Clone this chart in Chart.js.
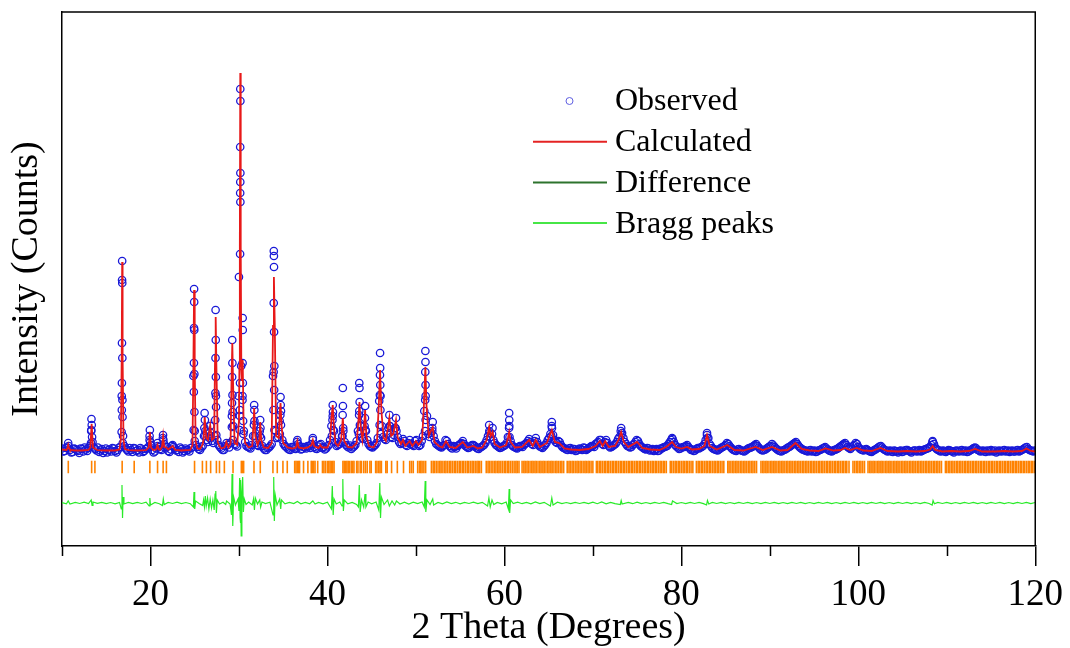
<!DOCTYPE html>
<html>
<head>
<meta charset="utf-8">
<title>Rietveld refinement</title>
<script src="https://cdn.jsdelivr.net/npm/chart.js@4.4.1/dist/chart.umd.min.js"></script>
<style>
  html, body { margin: 0; padding: 0; background: #fff; }
  #wrap { width: 1070px; height: 648px; }
</style>
</head>
<body>
<div id="wrap"><canvas id="xrd-chart"></canvas></div>
<script>
// Data: [2 theta (deg), intensity (counts)]
const calculated = [
  [10,965],[10.5,960],[10.6,975],[10.7,1010],[10.8,975],[10.9,960],[11.5,955],[12.3,955],[13.0,960],[13.2,985],[13.35,1220],[13.5,985],
  [14.0,958],[15,955],[16,955],[16.5,965],[16.65,1060],[16.75,1900],[16.8,2840],[16.85,1900],[16.95,1060],[17.1,970],[17.5,958],
  [18.5,955],[19.5,958],[19.8,985],[19.93,1140],[20.06,985],[20.3,960],[20.65,965],[20.8,1010],[20.95,965],[21.1,962],[21.3,990],
  [21.43,1100],[21.56,990],[21.8,985],[22.0,965],[22.5,1000],[22.8,960],[23.5,955],[24.5,960],[24.75,1010],[24.85,1800],[24.93,2560],
  [25.0,1800],[25.1,1050],[25.3,975],[25.6,970],[25.87,1010],[26.0,1060],[26.13,1290],[26.3,1080],[26.5,1060],[26.75,1210],[26.95,1060],
  [27.2,1080],[27.3,1900],[27.37,2290],[27.45,1800],[27.6,1040],[27.8,1000],[28.0,975],[28.4,990],[28.58,1040],[28.8,985],[29.05,1020],
  [29.17,1700],[29.25,2030],[29.33,1650],[29.5,1030],[29.8,1010],[30.0,1250],[30.05,1800],[30.1,3000],[30.15,4730],[30.2,3000],
  [30.27,1750],[30.33,1650],[30.42,1860],[30.52,1250],[30.7,1030],[31.1,985],[31.5,1000],[31.65,1240],[31.72,1380],[31.85,1100],
  [32.1,1010],[32.3,1060],[32.4,1240],[32.52,1060],[32.8,985],[33.3,980],[33.7,1030],[33.85,2200],[33.95,2690],[34.05,2200],[34.2,1100],
  [34.5,1080],[34.62,1350],[34.7,1430],[34.82,1200],[35.0,1030],[35.5,985],[36.0,975],[36.45,985],[36.6,1050],[36.75,985],[37.3,975],
  [37.8,985],[38.2,1010],[38.35,1060],[38.5,1000],[39.0,980],[39.2,1010],[39.4,985],[40.0,985],[40.3,1050],[40.45,1280],[40.6,1410],
  [40.72,1200],[40.9,1030],[41.2,1000],[41.55,1060],[41.74,1280],[41.9,1050],[42.3,990],[42.8,985],[43.3,1030],[43.5,1250],[43.62,1440],
  [43.75,1200],[43.95,1060],[44.15,1200],[44.26,1360],[44.4,1100],[44.7,1000],[45.2,985],[45.6,1040],[45.8,1400],[45.95,1760],[46.1,1350],
  [46.35,1080],[46.6,1050],[46.8,1160],[47.0,1280],[47.2,1100],[47.45,1120],[47.75,1260],[47.95,1080],[48.3,1020],[48.55,1060],[48.8,1000],
  [49.3,1050],[49.6,1000],[50.0,1050],[50.3,1010],[50.7,1060],[50.9,1400],[51.07,1790],[51.2,1400],[51.45,1100],[51.75,1160],[51.9,1190],
  [52.1,1040],[52.6,1000],[53.0,985],[53.4,1050],[53.8,990],[54.5,980],[55.3,1040],[55.8,985],[56.5,1000],[57.0,975],[57.5,985],
  [58.0,1060],[58.28,1190],[58.45,1100],[58.66,1140],[58.9,1020],[59.5,985],[60.2,1010],[60.4,1080],[60.54,1140],[60.7,1040],[61.2,985],
  [62.0,990],[62.8,1060],[63.2,1000],[63.55,1060],[64.0,990],[64.8,1030],[65.36,1160],[65.7,1040],[66.2,1030],[66.8,975],[67.5,965],
  [68.5,960],[69.5,970],[70.3,1000],[70.8,1050],[71.1,1000],[71.4,1050],[71.8,990],[72.5,1000],[72.9,1060],[73.2,1140],[73.5,1040],
  [74.0,990],[75.0,1040],[75.6,980],[76.5,965],[77.5,960],[78.3,990],[78.96,1040],[79.4,990],[80.0,975],[80.65,990],[81.2,965],
  [82.0,970],[82.6,1000],[82.9,1110],[83.2,1000],[84.0,965],[85.2,1010],[86.0,960],[87.0,955],[88.4,990],[89.2,960],[90.25,990],
  [91.2,955],[92.0,960],[92.9,1030],[93.6,970],[94.5,955],[95.5,950],[96.3,975],[97.2,955],[98.0,960],[98.5,980],[99.1,960],
  [99.8,980],[100.6,955],[101.5,950],[102.5,980],[103.3,950],[104.5,945],[105.5,950],[106.5,945],[107.5,950],[108.1,965],[108.4,1000],
  [108.7,960],[109.5,945],[110.5,950],[111.5,945],[112.5,950],[113.2,970],[114.0,945],[115.5,945],[116.5,950],[117.5,945],[118.5,950],
  [119.0,975],[119.5,950],[120,945]
];

const observedScan = [
  [10.0,975],[10.3,950],[10.6,985],[10.9,960],[11.2,940],[11.5,970],[11.8,950],[12.1,975],[12.4,945],[12.7,965],[13.0,980],[13.3,1150],
  [13.6,985],[13.9,955],[14.2,940],[14.5,970],[14.8,950],[15.1,935],[15.4,965],[15.7,980],[16.0,950],[16.3,960],[16.6,990],[16.9,1100],
  [17.2,975],[17.5,945],[17.8,960],[18.1,980],[18.4,950],[18.7,935],[19.0,965],[19.3,950],[19.6,975],[19.9,1060],[20.2,960],[20.5,945],
  [20.8,1000],[21.1,970],[21.4,1080],[21.7,975],[22.0,950],[22.3,965],[22.6,990],[22.9,955],[23.2,940],[23.5,970],[23.8,950],[24.1,960],
  [24.4,945],[24.7,985],[25.0,1150],[25.3,990],[25.6,960],[25.9,1000],[26.2,1150],[26.5,1040],[26.8,1100],[27.1,1030],[27.4,1500],
  [27.7,1010],[28.0,975],[28.3,960],[28.6,1030],[28.9,985],[29.2,1300],[29.5,1020],[29.8,995],[30.1,1300],[30.4,1500],[30.7,1040],
  [31.0,990],[31.3,975],[31.6,1100],[31.9,1030],[32.2,1000],[32.5,1080],[32.8,975],[33.1,960],[33.4,985],[33.7,1020],[34.0,1800],
  [34.3,1080],[34.6,1250],[34.9,1060],[35.2,1000],[35.5,975],[35.8,960],[36.1,985],[36.4,970],[36.7,1020],[37.0,965],[37.3,990],
  [37.6,975],[37.9,995],[38.2,1020],[38.5,990],[38.8,970],[39.1,1010],[39.4,980],[39.7,965],[40.0,995],[40.3,1060],[40.6,1300],
  [40.9,1040],[41.2,1010],[41.5,1040],[41.8,1150],[42.1,1010],[42.4,985],[42.7,970],[43.0,995],[43.3,1050],[43.6,1350],[43.9,1080],
  [44.2,1200],[44.5,1060],[44.8,1000],[45.1,985],[45.4,1010],[45.7,1080],[46.0,1500],[46.3,1090],[46.6,1060],[46.9,1180],[47.2,1090],
  [47.5,1110],[47.8,1150],[48.1,1040],[48.4,1030],[48.7,1050],[49.0,1000],[49.3,1060],[49.6,1010],[49.9,1050],[50.2,1020],[50.5,1010],
  [50.8,1100],[51.1,1500],[51.4,1120],[51.7,1130],[52.0,1100],[52.3,1020],[52.6,1000],[52.9,985],[53.2,1010],[53.5,1050],[53.8,1000],
  [54.1,975],[54.4,990],[54.7,1000],[55.0,1020],[55.3,1050],[55.6,1000],[55.9,980],[56.2,1000],[56.5,1010],[56.8,985],[57.1,970],
  [57.4,990],[57.7,1010],[58.0,1060],[58.3,1150],[58.6,1120],[58.9,1030],[59.2,1000],[59.5,980],[59.8,995],[60.1,1010],[60.4,1090],
  [60.7,1050],[61.0,995],[61.3,980],[61.6,990],[61.9,1000],[62.2,1010],[62.5,1030],[62.8,1070],[63.1,1020],[63.4,1050],[63.7,1040],
  [64.0,995],[64.3,980],[64.6,1010],[64.9,1060],[65.2,1120],[65.5,1110],[65.8,1040],[66.1,1050],[66.4,1010],[66.7,980],[67.0,965],
  [67.3,975],[67.6,960],[67.9,970],[68.2,955],[68.5,975],[68.8,960],[69.1,980],[69.4,970],[69.7,990],[70.0,1000],[70.3,1020],
  [70.6,1040],[70.9,1060],[71.2,1010],[71.5,1060],[71.8,1000],[72.1,990],[72.4,1010],[72.7,1040],[73.0,1090],[73.3,1130],[73.6,1040],
  [73.9,1000],[74.2,985],[74.5,1010],[74.8,1040],[75.1,1050],[75.4,1000],[75.7,980],[76.0,965],[76.3,975],[76.6,960],[76.9,950],
  [77.2,970],[77.5,955],[77.8,975],[78.1,990],[78.4,1000],[78.7,1040],[79.0,1070],[79.3,1010],[79.6,985],[79.9,975],[80.2,990],
  [80.5,1000],[80.8,990],[81.1,960],[81.4,950],[81.7,970],[82.0,975],[82.3,990],[82.6,1020],[82.9,1110],[83.2,1020],[83.5,980],
  [83.8,965],[84.1,955],[84.4,975],[84.7,990],[85.0,1010],[85.3,1020],[85.6,985],[85.9,960],[86.2,950],[86.5,970],[86.8,955],
  [87.1,945],[87.4,965],[87.7,980],[88.0,990],[88.3,1010],[88.6,1000],[88.9,970],[89.2,955],[89.5,965],[89.8,985],[90.1,1000],
  [90.4,1005],[90.7,975],[91.0,955],[91.3,945],[91.6,960],[91.9,975],[92.2,990],[92.5,1010],[92.8,1030],[93.1,1020],[93.4,985],
  [93.7,965],[94.0,955],[94.3,945],[94.6,960],[94.9,950],[95.2,940],[95.5,955],[95.8,965],[96.1,980],[96.4,975],[96.7,955],
  [97.0,945],[97.3,960],[97.6,970],[97.9,990],[98.2,1010],[98.5,1030],[98.8,990],[99.1,970],[99.4,1000],[99.7,1030],[100.0,990],
  [100.3,965],[100.6,955],[100.9,970],[101.2,950],[101.5,940],[101.8,960],[102.1,975],[102.4,995],[102.7,985],[103.0,960],[103.3,945],
  [103.6,955],[103.9,940],[104.2,950],[104.5,935],[104.8,955],[105.1,945],[105.4,960],[105.7,950],[106.0,935],[106.3,955],[106.6,945],
  [106.9,960],[107.2,950],[107.5,965],[107.8,975],[108.1,990],[108.4,1040],[108.7,985],[109.0,960],[109.3,945],[109.6,955],[109.9,940],
  [110.2,960],[110.5,950],[110.8,935],[111.1,955],[111.4,945],[111.7,960],[112.0,950],[112.3,940],[112.6,955],[112.9,970],[113.2,985],
  [113.5,960],[113.8,945],[114.1,955],[114.4,940],[114.7,950],[115.0,960],[115.3,945],[115.6,935],[115.9,955],[116.2,945],[116.5,960],
  [116.8,950],[117.1,940],[117.4,955],[117.7,945],[118.0,960],[118.3,950],[118.6,965],[118.9,985],[119.2,970],[119.5,955],[119.8,945]
];

// in-between scan points (the recorded step is finer than the list above)
const observedScanB = [
  [10.15,945],[10.45,980],[10.75,1000],[11.05,935],[11.35,975],[11.65,960],[11.95,930],[12.25,970],[12.55,985],[12.85,950],[13.15,1000],
  [13.45,1040],[13.75,970],[14.05,985],[14.35,955],[14.65,930],[14.95,975],[15.25,960],[15.55,945],[15.85,975],[16.15,935],[16.45,985],
  [16.75,1500],[17.05,1000],[17.35,960],[17.65,980],[17.95,940],[18.25,975],[18.55,960],[18.85,980],[19.15,940],[19.45,970],[19.75,990],
  [20.05,1010],[20.35,935],[20.65,975],[20.95,990],[21.25,960],[21.55,1020],[21.85,990],[22.15,940],[22.45,1000],[22.75,975],[23.05,960],
  [23.35,985],[23.65,935],[23.95,975],[24.25,960],[24.55,980],[24.85,1700],[25.15,1010],[25.45,970],[25.75,985],[26.05,1100],[26.35,1060],
  [26.65,1080],[26.95,1050],[27.25,1100],[27.55,1060],[27.85,990],[28.15,960],[28.45,1000],[28.75,1010],[29.05,1030],[29.35,1200],
  [29.65,1010],[29.95,1500],[30.25,1800],[30.55,1150],[30.85,1000],[31.15,985],[31.45,1010],[31.75,1250],[32.05,1010],[32.35,1150],
  [32.65,1000],[32.95,960],[33.25,980],[33.55,1000],[33.85,1700],[34.15,1150],[34.45,1090],[34.75,1350],[35.05,1020],[35.35,990],
  [35.65,965],[35.95,990],[36.25,975],[36.55,1040],[36.85,995],[37.15,970],[37.45,985],[37.75,1000],[38.05,980],[38.35,1060],[38.65,975],
  [38.95,995],[39.25,1020],[39.55,990],[39.85,975],[40.15,1010],[40.45,1200],[40.75,1150],[41.05,1000],[41.35,1020],[41.65,1100],
  [41.95,1040],[42.25,995],[42.55,1005],[42.85,985],[43.15,1010],[43.45,1150],[43.75,1200],[44.05,1070],[44.35,1150],[44.65,1020],
  [44.95,990],[45.25,1000],[45.55,1030],[45.85,1450],[46.15,1200],[46.45,1070],[46.75,1120],[47.05,1200],[47.35,1080],[47.65,1180],
  [47.95,1090],[48.25,1020],[48.55,1070],[48.85,1010],[49.15,1030],[49.45,1020],[49.75,1000],[50.05,1060],[50.35,1000],[50.65,1050],
  [50.95,1350],[51.25,1300],[51.55,1090],[51.85,1180],[52.15,1050],[52.45,1010],[52.75,990],[53.05,1000],[53.35,1060],[53.65,1020],
  [53.95,985],[54.25,1000],[54.55,975],[54.85,1010],[55.15,1030],[55.45,1020],[55.75,990],[56.05,985],[56.35,1010],[56.65,1000],
  [56.95,975],[57.25,985],[57.55,1000],[57.85,1030],[58.15,1100],[58.45,1090],[58.75,1060],[59.05,1010],[59.35,990],[59.65,985],
  [59.95,1000],[60.25,1030],[60.55,1200],[60.85,1010],[61.15,990],[61.45,975],[61.75,1000],[62.05,990],[62.35,1020],[62.65,1050],
  [62.95,1040],[63.25,1010],[63.55,1080],[63.85,1010],[64.15,990],[64.45,995],[64.75,1030],[65.05,1080],[65.35,1200],[65.65,1060],
  [65.95,1030],[66.25,1040],[66.55,990],[66.85,975],[67.15,960],[67.45,980],[67.75,970],[68.05,950],[68.35,965],[68.65,970],[68.95,985],
  [69.25,960],[69.55,980],[69.85,1000],[70.15,990],[70.45,1030],[70.75,1060],[71.05,1020],[71.35,1040],[71.65,1030],[71.95,985],
  [72.25,1000],[72.55,1020],[72.85,1070],[73.15,1150],[73.45,1080],[73.75,1020],[74.05,995],[74.35,990],[74.65,1020],[74.95,1060],
  [75.25,1020],[75.55,990],[75.85,970],[76.15,980],[76.45,955],[76.75,970],[77.05,960],[77.35,950],[77.65,975],[77.95,985],[78.25,995],
  [78.55,1020],[78.85,1060],[79.15,1040],[79.45,995],[79.75,970],[80.05,985],[80.35,990],[80.65,1010],[80.95,975],[81.25,965],[81.55,955],
  [81.85,980],[82.15,985],[82.45,1000],[82.75,1060],[83.05,1080],[83.35,1000],[83.65,970],[83.95,960],[84.25,965],[84.55,985],[84.85,1000],
  [85.15,1030],[85.45,1000],[85.75,970],[86.05,955],[86.35,965],[86.65,960],[86.95,950],[87.25,955],[87.55,975],[87.85,985],[88.15,1000],
  [88.45,1020],[88.75,985],[89.05,960],[89.35,960],[89.65,975],[89.95,995],[90.25,1020],[90.55,990],[90.85,965],[91.15,950],[91.45,955],
  [91.75,965],[92.05,985],[92.35,1000],[92.65,1020],[92.95,1040],[93.25,1000],[93.55,975],[93.85,960],[94.15,950],[94.45,955],[94.75,945],
  [95.05,955],[95.35,945],[95.65,960],[95.95,975],[96.25,990],[96.55,965],[96.85,950],[97.15,955],[97.45,965],[97.75,980],[98.05,1000],
  [98.35,1020],[98.65,1010],[98.95,980],[99.25,985],[99.55,1010],[99.85,1020],[100.15,975],[100.45,960],[100.75,965],[101.05,960],
  [101.35,945],[101.65,950],[101.95,965],[102.25,985],[102.55,1000],[102.85,970],[103.15,955],[103.45,950],[103.75,945],[104.05,955],
  [104.35,945],[104.65,950],[104.95,940],[105.25,955],[105.55,960],[105.85,945],[106.15,950],[106.45,955],[106.75,950],[107.05,945],
  [107.35,960],[107.65,970],[107.95,980],[108.25,1010],[108.55,1020],[108.85,970],[109.15,955],[109.45,950],[109.75,945],[110.05,950],
  [110.35,955],[110.65,945],[110.95,950],[111.25,950],[111.55,955],[111.85,945],[112.15,955],[112.45,945],[112.75,960],[113.05,980],
  [113.35,975],[113.65,955],[113.95,950],[114.25,945],[114.55,955],[114.85,945],[115.15,950],[115.45,955],[115.75,945],[116.05,950],
  [116.35,955],[116.65,945],[116.95,955],[117.25,950],[117.55,945],[117.85,955],[118.15,945],[118.45,960],[118.75,975],[119.05,990],
  [119.35,960],[119.65,950],[119.95,955]
];

const observedPeaks = [
  [10.7,1030],[13.33,1270],[13.36,1210],[13.31,1160],[13.4,1090],[13.28,1030],
  [16.8,2850],[16.79,2660],[16.81,2630],[16.78,2030],[16.82,1880],[16.77,1630],[16.83,1460],[16.76,1360],[16.84,1290],[16.74,1140],[16.87,1030],
  [19.93,1160],[19.9,1100],[19.97,1040],[20.8,1030],[21.42,1110],[21.46,1060],[22.5,1010],
  [24.93,2570],[24.94,2440],[24.92,2180],[24.95,2160],[24.91,1830],[24.96,1720],[24.9,1540],[24.97,1340],[24.88,1160],[25.0,1050],
  [26.12,1330],[26.15,1260],[26.09,1180],[26.2,1100],[26.75,1200],[26.72,1140],[26.8,1080],
  [27.36,2360],[27.38,2060],[27.35,1880],[27.39,1690],[27.34,1530],[27.41,1390],[27.32,1260],[27.44,1110],
  [29.24,2060],[29.26,1830],[29.23,1690],[29.27,1510],[29.22,1430],[29.28,1340],[29.2,1190],[29.31,1060],
  [30.15,4570],[30.16,4450],[30.14,3990],[30.16,3730],[30.15,3640],[30.14,3530],[30.16,3440],[30.13,2920],[30.0,2690],[30.12,1630],[30.1,1360],[30.08,1160],
  [30.42,2280],[30.43,2160],[30.41,1830],[30.44,1630],[30.4,1460],[30.47,1250],[30.5,1120],
  [31.72,1410],[31.74,1360],[31.69,1210],[31.78,1100],[32.4,1260],[32.43,1180],[32.36,1100],
  [33.94,2950],[33.95,2900],[33.96,2790],[33.93,2430],[33.97,2140],[33.92,1740],[33.98,1560],[33.9,1360],[34.01,1160],
  [34.7,1490],[34.72,1410],[34.68,1310],[34.75,1210],[34.62,1120],[36.6,1060],[38.35,1080],
  [40.6,1410],[40.62,1340],[40.57,1260],[40.65,1160],[40.5,1100],[41.74,1580],[41.75,1400],[41.72,1310],[41.78,1180],[41.7,1100],
  [43.6,1630],[43.62,1580],[43.64,1440],[43.58,1310],[43.67,1210],[43.55,1120],[44.26,1400],[44.24,1280],[44.3,1160],
  [45.95,1930],[45.96,1780],[45.94,1710],[45.97,1610],[45.93,1510],[45.99,1360],[45.9,1210],[46.05,1120],
  [47.0,1310],[47.05,1200],[47.75,1280],[47.7,1180],
  [51.07,1950],[51.08,1840],[51.06,1740],[51.09,1610],[51.05,1460],[51.1,1260],[51.03,1150],[51.9,1240],[51.85,1150],
  [58.28,1210],[58.3,1130],[58.66,1180],[60.54,1330],[60.55,1260],[60.53,1180],[60.58,1090],
  [65.36,1240],[65.38,1180],[65.3,1100],[73.2,1180],[73.25,1110],[78.96,1080],[82.9,1130],[82.95,1080],[108.4,1050]
];

// observed minus calculated
const difference = [
  [10,5],[10.5,-8],[10.7,20],[10.9,-10],[11.5,6],[12,-5],[12.5,8],[13,-6],[13.3,30],[13.4,-25],[13.5,10],[14,-4],[14.5,7],[15,-6],
  [15.5,5],[16,-8],[16.5,6],[16.7,-60],[16.78,180],[16.84,-150],[16.9,60],[17.0,-10],[17.5,5],[18,-7],[18.5,6],[19,-5],[19.5,8],
  [19.85,-30],[19.93,50],[20.0,-20],[20.5,6],[21,-8],[21.35,-25],[21.45,40],[21.55,-15],[22,6],[22.5,-5],[23,8],[23.5,-6],[24,5],
  [24.5,-7],[24.85,-40],[24.92,110],[25.0,-60],[25.1,20],[25.5,-5],[25.9,-25],[26.0,30],[26.1,-40],[26.2,70],[26.3,-30],[26.45,50],
  [26.6,-60],[26.75,40],[26.9,-50],[27.05,30],[27.2,-70],[27.3,90],[27.38,120],[27.45,-100],[27.55,30],[27.8,-10],[28.2,8],[28.5,-15],
  [28.6,20],[29.0,-10],[29.15,-120],[29.22,290],[29.3,-230],[29.4,60],[29.6,-20],[29.9,40],[30.0,-80],[30.08,250],[30.13,-150],
  [30.16,-200],[30.2,230],[30.25,-330],[30.33,110],[30.42,260],[30.5,-90],[30.6,40],[30.8,-15],[31.1,10],[31.5,-20],[31.65,40],
  [31.75,-70],[31.85,50],[32.1,-10],[32.35,30],[32.45,-40],[32.6,10],[33.0,-6],[33.5,8],[33.85,-120],[33.93,260],[34.0,-180],
  [34.1,80],[34.3,-20],[34.6,40],[34.72,-60],[34.8,30],[35.2,-8],[35.7,6],[36.2,-5],[36.6,15],[37,-8],[37.5,6],[38.0,-8],[38.35,20],
  [38.6,-10],[39,6],[39.5,-8],[40,8],[40.45,-60],[40.55,170],[40.65,-120],[40.75,40],[41.0,-10],[41.4,10],[41.65,-30],[41.74,240],
  [41.8,-80],[41.9,30],[42.3,-8],[42.8,6],[43.3,-15],[43.5,-40],[43.6,180],[43.7,-90],[43.85,30],[44.1,-40],[44.25,90],[44.35,-40],
  [44.6,10],[45.0,-8],[45.5,10],[45.8,-70],[45.92,200],[46.0,-150],[46.1,60],[46.4,-15],[46.8,30],[47.0,-30],[47.3,20],[47.6,-20],
  [47.8,20],[48.2,-10],[48.7,8],[49.2,-10],[49.7,8],[50.2,-6],[50.7,10],[50.95,-40],[51.05,220],[51.12,-90],[51.25,30],[51.6,-15],
  [51.9,40],[52.0,-20],[52.5,6],[53,-8],[53.5,10],[54,-6],[54.5,7],[55,-8],[55.5,6],[56,-5],[56.5,8],[57,-6],[57.5,7],[58.1,-30],
  [58.25,50],[58.4,-40],[58.6,30],[58.8,-15],[59.2,6],[59.7,-8],[60.2,10],[60.45,-60],[60.54,140],[60.6,-100],[60.7,30],[61.0,-6],
  [61.5,8],[62,-7],[62.5,6],[63,-8],[63.5,10],[64,-6],[64.5,7],[65.2,-30],[65.36,50],[65.5,-20],[66,8],[66.5,-6],[67,5],[67.5,-7],
  [68,6],[68.5,-5],[69,7],[69.5,-6],[70,8],[70.5,-7],[71,10],[71.5,-8],[72,6],[72.5,-7],[73.1,-15],[73.2,25],[73.3,-10],[74,6],
  [74.5,-7],[75,8],[75.5,-6],[76,5],[76.5,-7],[77,6],[77.5,-5],[78,7],[78.5,-6],[78.9,-15],[79.0,20],[79.5,-6],[80,5],[80.5,-7],
  [81,6],[81.5,-5],[82,7],[82.5,-6],[82.85,-20],[82.95,25],[83.1,-10],[83.5,6],[84,-5],[84.5,7],[85,-6],[85.5,5],[86,-7],[86.5,6],
  [87,-5],[87.5,7],[88,-6],[88.5,5],[89,-7],[89.5,6],[90,-5],[90.5,7],[91,-6],[91.5,5],[92,-7],[92.5,6],[93,-5],[93.5,7],[94,-6],
  [94.5,5],[95,-7],[95.5,6],[96,-5],[96.5,7],[97,-6],[97.5,5],[98,-7],[98.5,6],[99,-5],[99.5,7],[100,-6],[100.5,5],[101,-7],
  [101.5,6],[102,-5],[102.5,7],[103,-6],[103.5,5],[104,-7],[104.5,6],[105,-5],[105.5,7],[106,-6],[106.5,5],[107,-7],[107.5,6],
  [108,-5],[108.35,-20],[108.45,25],[108.6,-8],[109,6],[109.5,-5],[110,7],[110.5,-6],[111,5],[111.5,-7],[112,6],[112.5,-5],[113,7],
  [113.5,-6],[114,5],[114.5,-7],[115,6],[115.5,-5],[116,7],[116.5,-6],[117,5],[117.5,-7],[118,6],[118.5,-5],[119,7],[119.5,-6],[120,5]
];

// reflection positions (2 theta)
const braggPositions = [
  10.71,13.35,13.72,16.8,18.16,19.93,20.8,21.43,21.8,24.98,25.87,26.32,26.8,27.45,27.8,28.35,29.33,30.27,30.4,30.53,31.7,32.41,
  33.84,34.33,34.97,35.46,36.3,36.45,36.6,36.75,36.85,37.3,37.79,38.17,38.3,38.45,38.6,38.9,39.44,39.6,39.78,40.0,40.15,40.3,40.45,
  40.6,40.75,41.75,41.9,42.05,42.2,42.35,42.5,42.7,42.85,43.0,43.3,43.45,43.7,43.84,44.1,44.3,44.5,44.8,44.95,45.45,45.6,45.8,
  45.95,46.1,46.6,46.75,47.25,47.9,48.6,49.3,49.5,49.7,50.2,50.4,50.55,50.7,50.9,51.1,51.75,51.95,52.1,52.3,52.5,52.7,52.85,53.05,
  53.25,53.4,53.6,53.8,53.95,54.15,54.35,54.5,54.7,54.9,55.05,55.25,55.4,55.6,55.8,55.95,56.15,56.35,56.5,56.7,56.9,57.05,57.2,
  57.4,57.95,58.15,58.3,58.5,58.7,58.9,59.05,59.25,59.4,59.6,59.8,60.0,60.15,60.35,60.5,60.7,60.9,61.1,61.3,61.45,61.65,
  62.0,62.2,62.35,62.55,62.7,62.9,63.1,63.25,63.45,63.6,63.8,64.0,64.15,64.35,64.5,64.7,64.9,65.05,65.25,65.4,65.6,65.8,65.95,
  66.15,66.35,66.5,66.7,67.1,67.3,67.45,67.65,67.8,68.0,68.2,68.35,68.55,68.7,68.9,69.1,69.25,69.45,69.6,69.8,70.0,70.4,70.55,
  70.75,70.9,71.1,71.3,71.45,71.65,71.8,72.0,72.2,72.35,72.55,72.7,72.9,73.1,73.25,73.45,73.6,73.8,74.0,74.15,74.35,74.5,74.7,
  74.9,75.05,75.25,75.4,75.6,75.8,75.95,76.15,76.3,76.5,76.7,76.85,77.05,77.2,77.4,77.6,77.75,77.95,78.1,78.3,78.75,78.9,79.1,
  79.3,79.45,79.65,79.8,80.0,80.2,80.35,80.55,80.7,80.9,81.1,81.3,81.7,81.9,82.05,82.25,82.4,82.6,82.8,82.95,83.15,83.3,83.5,
  83.7,83.85,84.05,84.2,84.4,84.6,84.8,85.25,85.4,85.6,85.8,85.95,86.15,86.3,86.5,86.7,86.85,87.05,87.2,87.4,87.6,87.75,87.95,
  88.1,88.3,88.5,89.0,89.2,89.35,89.55,89.7,89.9,90.1,90.25,90.45,90.6,90.8,91.0,91.15,91.35,91.5,91.7,91.9,92.05,92.25,92.4,
  92.6,92.8,92.95,93.15,93.3,93.5,93.7,93.85,94.05,94.2,94.4,94.6,94.75,94.95,95.1,95.3,95.5,95.65,95.85,96.0,96.2,96.4,96.55,
  96.75,96.9,97.1,97.3,97.45,97.65,97.8,98.0,98.2,98.35,98.55,98.7,98.95,99.4,99.6,99.8,99.95,100.15,100.3,100.5,100.7,101.1,
  101.3,101.45,101.65,101.8,102.0,102.2,102.35,102.55,102.7,102.9,103.1,103.25,103.45,103.6,103.8,104.0,104.15,104.35,104.5,
  104.7,104.9,105.05,105.25,105.4,105.6,105.8,105.95,106.15,106.3,106.5,106.7,106.85,107.05,107.2,107.4,107.6,107.75,107.95,
  108.1,108.3,108.5,108.65,108.85,109.0,109.2,109.4,109.85,110.0,110.2,110.35,110.55,110.7,110.9,111.1,111.25,111.45,111.6,
  111.8,112.0,112.15,112.35,112.5,112.7,112.9,113.05,113.25,113.4,113.6,113.8,113.95,114.15,114.3,114.5,114.7,114.85,115.05,
  115.2,115.4,115.6,115.75,115.95,116.1,116.3,116.5,116.65,116.85,117.0,117.2,117.4,117.55,117.75,117.9,118.1,118.3,118.45,
  118.65,118.8,119.0,119.2,119.35,119.55,119.7,119.9
];

const majorTicks = [20, 40, 60, 80, 100, 120];
const minorTicks = [10, 30, 50, 70, 90, 110];
const seriesNames = ['Observed', 'Calculated', 'Difference', 'Bragg peaks'];

const diffOffset = 430;  // where the difference curve sits
const braggLevel = 790;  // height of the reflection tick row

const serif = '"Liberation Serif", "Times New Roman", serif';
const toXY = pairs => pairs.map(p => ({ x: p[0], y: p[1] }));

// frame on top/right plus the short minor ticks under the x axis
const framePlugin = {
  id: 'frame',
  afterDraw(chart) {
    const { ctx, chartArea: a, scales } = chart;
    ctx.save();
    ctx.strokeStyle = '#000';
    ctx.lineWidth = 1.5;
    ctx.beginPath();
    ctx.moveTo(a.left, a.top);
    ctx.lineTo(a.right, a.top);
    ctx.lineTo(a.right, a.bottom);
    minorTicks.forEach(v => {
      const px = Math.round(scales.x.getPixelForValue(v)) + 0.5;
      ctx.moveTo(px, a.bottom);
      ctx.lineTo(px, a.bottom + 10);
    });
    ctx.stroke();
    ctx.restore();
  }
};

// legend drawn inside the plot, like the original
const legendPlugin = {
  id: 'insideLegend',
  afterDraw(chart) {
    const ctx = chart.ctx;
    const marks = [
      { kind: 'circle', color: 'rgb(95,95,225)' },
      { kind: 'line', color: 'rgb(228,35,35)' },
      { kind: 'line', color: 'rgb(45,115,45)' },
      { kind: 'line', color: 'rgb(70,230,70)' }
    ];
    ctx.save();
    ctx.font = '32px ' + serif;
    ctx.textBaseline = 'middle';
    ctx.fillStyle = '#000';
    marks.forEach((m, i) => {
      const y = 102 + i * 40.7;
      ctx.strokeStyle = m.color;
      if (m.kind === 'circle') {
        ctx.lineWidth = 1;
        ctx.beginPath();
        ctx.arc(569.5, y - 1, 3.5, 0, Math.PI * 2);
        ctx.stroke();
      } else {
        ctx.lineWidth = 2;
        ctx.beginPath();
        ctx.moveTo(533, y - 1);
        ctx.lineTo(607, y - 1);
        ctx.stroke();
      }
      ctx.fillText(seriesNames[i], 615, y);
    });
    ctx.restore();
  }
};

new Chart(document.getElementById('xrd-chart'), {
  type: 'scatter',
  data: {
    datasets: [
      {
        label: seriesNames[1],
        data: toXY(calculated),
        showLine: true,
        borderColor: 'rgb(232,25,25)',
        borderWidth: 1.8,
        pointRadius: 0,
        order: 0
      },
      {
        label: seriesNames[0],
        data: toXY(observedScan.concat(observedScanB, observedPeaks)),
        showLine: false,
        pointStyle: 'circle',
        pointRadius: 3.7,
        borderWidth: 1.3,
        borderColor: 'rgb(25,25,215)',
        backgroundColor: 'rgba(0,0,0,0)',
        order: 1
      },
      {
        label: seriesNames[2],
        data: difference.map(p => ({ x: p[0], y: p[1] + diffOffset })),
        showLine: true,
        borderColor: 'rgb(40,235,40)',
        borderWidth: 1.2,
        pointRadius: 0,
        order: 2
      },
      {
        label: seriesNames[3],
        data: braggPositions.map(t => ({ x: t, y: braggLevel })),
        showLine: false,
        pointStyle: 'line',
        rotation: 90,
        pointRadius: 6.3,
        borderWidth: 1.6,
        borderColor: 'rgb(255,130,0)',
        order: 3
      }
    ]
  },
  options: {
    responsive: true,
    maintainAspectRatio: false,
    animation: false,
    devicePixelRatio: 1,
    layout: { padding: { top: 12, right: 33, left: 0, bottom: 0 } },
    plugins: {
      legend: { display: false },
      tooltip: { enabled: false }
    },
    scales: {
      x: {
        type: 'linear',
        min: 10,
        max: 120,
        afterBuildTicks: s => { s.ticks = majorTicks.map(v => ({ value: v })); },
        afterFit: s => { s.height = 102; },
        grid: { display: true, drawOnChartArea: false, drawTicks: true, tickLength: 20, color: '#000', lineWidth: 1.5 },
        border: { display: true, color: '#000', width: 1.5 },
        ticks: { color: '#000', padding: 7, maxRotation: 0, font: { family: serif, size: 37 } },
        title: { display: true, text: '2 Theta (Degrees)', color: '#000', padding: { top: 0, bottom: 1 }, font: { family: serif, size: 38, lineHeight: 1 } }
      },
      y: {
        type: 'linear',
        min: 0,
        max: 5340,
        afterFit: s => { s.width = 62; },
        grid: { display: false },
        border: { display: true, color: '#000', width: 1.5 },
        ticks: { display: false },
        title: { display: true, text: 'Intensity (Counts)', color: '#000', padding: { top: 4, bottom: 0 }, font: { family: serif, size: 38 } }
      }
    }
  },
  plugins: [framePlugin, legendPlugin]
});
</script>
</body>
</html>
